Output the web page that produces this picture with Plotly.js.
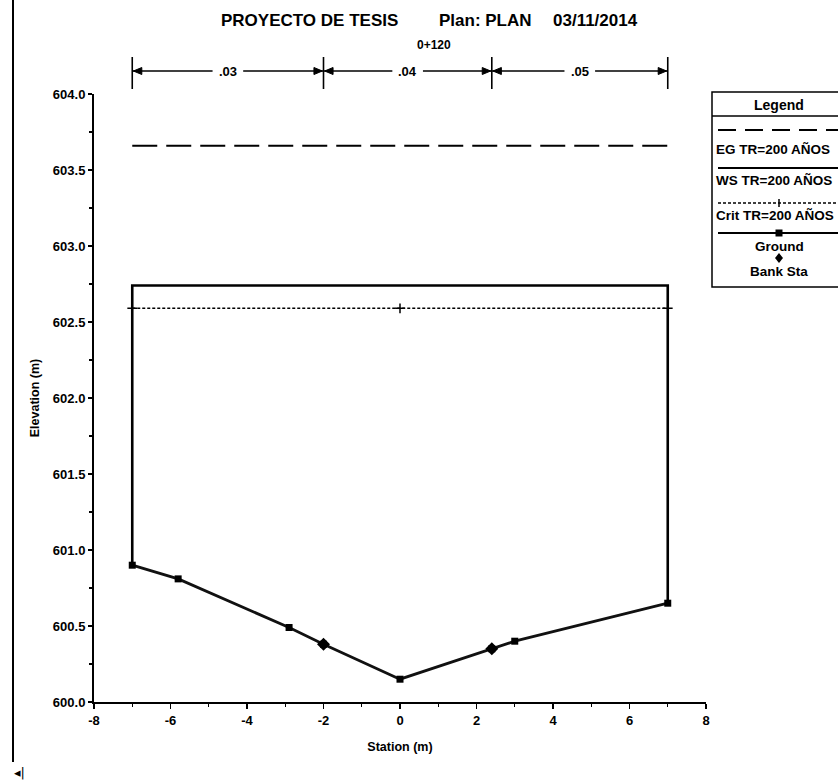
<!DOCTYPE html>
<html><head><meta charset="utf-8">
<script src="https://cdn.plot.ly/plotly-3.0.1.min.js"></script>
<style>html,body{margin:0;padding:0;background:#fff}#chart{width:838px;height:782px}</style>
</head><body><div id="chart"></div>
<script>
// ---- data ----
const groundX = [-7, -5.8, -2.9, -2, 0, 2.4, 3, 7];
const groundY = [600.90, 600.81, 600.49, 600.38, 600.15, 600.35, 600.40, 600.65];
const bankX = [-2, 2.4];
const wsElev = 602.74;
const critElev = 602.59;
const critX = [-7, 0, 7];
const egElev = 603.66;
const manningStations = [-7, -2, 2.4, 7];
const manningN = ['.03', '.04', '.05'];
const legendLabels = ['EG TR=200 AÑOS', 'WS TR=200 AÑOS', 'Crit TR=200 AÑOS', 'Ground', 'Bank Sta'];
const xTickVals = [-8, -6, -4, -2, 0, 2, 4, 6, 8];
const xTickLabels = ['-8', '-6', '-4', '-2', '0', '2', '4', '6', '8'];
const yTickVals = [600, 600.5, 601, 601.5, 602, 602.5, 603, 603.5, 604];
const yTickLabels = ['600.0', '600.5', '601.0', '601.5', '602.0', '602.5', '603.0', '603.5', '604.0'];

// ---- layout helpers (pixel -> paper) ----
const L = 94, R = 706, T = 94, B = 702;
const px = x => (x - L) / (R - L);
const py = y => (B - y) / (B - T);
const FONT = "'Liberation Sans', Arial, sans-serif";
const BLACK = '#000';

const x0 = groundX[0], xN = groundX[groundX.length - 1];
const g0 = groundY[0], gN = groundY[groundY.length - 1];
const bankY = bankX.map(b => groundY[groundX.indexOf(b)]);

const traces = [
  { x: [x0, xN], y: [egElev, egElev], mode: 'lines', line: { color: BLACK, width: 2, dash: '25px,9px' }, hoverinfo: 'skip' },
  { x: [x0, x0, xN, xN], y: [g0, wsElev, wsElev, gN], mode: 'lines', line: { color: BLACK, width: 2.6 }, hoverinfo: 'skip' },
  { x: critX, y: critX.map(() => critElev), mode: 'lines+markers', line: { color: BLACK, width: 1.6, dash: '3px,2px' },
    marker: { symbol: 'cross-thin', size: 7, line: { color: BLACK, width: 1.5 } }, hoverinfo: 'skip' },
  { x: groundX, y: groundY, mode: 'lines+markers', line: { color: '#111', width: 2.8 },
    marker: { symbol: 'square', size: 7, color: BLACK }, hoverinfo: 'skip' },
  { x: bankX, y: bankY, mode: 'markers', marker: { symbol: 'diamond', size: 10, color: BLACK }, hoverinfo: 'skip' }
];

// Manning's n bar above the plot
const manY = 71;
const shapes = [];
const annotations = [];
const arrowLen = 0.22, arrowHalf = 3.5 / (B - T);
function arrow(tip, dir) { // dir -1 = pointing left, +1 = pointing right
  const yc = py(manY);
  const base = tip - dir * arrowLen;
  return { type: 'path', xref: 'x', yref: 'paper',
    path: `M ${tip} ${yc} L ${base} ${yc + arrowHalf} L ${base} ${yc - arrowHalf} Z`,
    fillcolor: BLACK, line: { color: BLACK, width: 1 } };
}
manningN.forEach((n, i) => {
  const s0 = manningStations[i], s1 = manningStations[i + 1];
  const c = (s0 + s1) / 2;
  shapes.push({ type: 'line', xref: 'x', yref: 'paper', x0: s0, x1: c - 0.4, y0: py(manY), y1: py(manY), line: { color: BLACK, width: 1.5 } });
  shapes.push({ type: 'line', xref: 'x', yref: 'paper', x0: c + 0.4, x1: s1, y0: py(manY), y1: py(manY), line: { color: BLACK, width: 1.5 } });
  shapes.push(arrow(s0 + 0.03, -1));
  shapes.push(arrow(s1 - 0.03, 1));
  annotations.push({ xref: 'x', yref: 'paper', x: c, y: py(manY), text: n, showarrow: false,
    font: { family: FONT, size: 13, weight: 'bold', color: BLACK }, xanchor: 'center', yanchor: 'middle' });
});
manningStations.forEach(s => {
  shapes.push({ type: 'line', xref: 'x', yref: 'paper', x0: s, x1: s, y0: py(57), y1: py(89), line: { color: BLACK, width: 1.6 } });
});

// Titles
const titleFont = { family: FONT, size: 17, weight: 'bold', color: BLACK };
annotations.push({ xref: 'paper', yref: 'paper', x: px(219), y: py(20), text: 'PROYECTO DE TESIS', showarrow: false, font: titleFont, xanchor: 'left', yanchor: 'middle' });
annotations.push({ xref: 'paper', yref: 'paper', x: px(486), y: py(20), text: 'Plan: PLAN', showarrow: false, font: titleFont, xanchor: 'center', yanchor: 'middle' });
annotations.push({ xref: 'paper', yref: 'paper', x: px(640), y: py(20), text: '03/11/2014', showarrow: false, font: titleFont, xanchor: 'right', yanchor: 'middle' });
annotations.push({ xref: 'paper', yref: 'paper', x: px(434), y: py(45), text: '0+120', showarrow: false,
  font: { family: FONT, size: 12, weight: 'bold', color: BLACK }, xanchor: 'center', yanchor: 'middle' });

// Legend box (custom)
const lgL = 712, lgR = 860, lgT = 92, lgB = 287, lgC = 779;
shapes.push({ type: 'rect', xref: 'paper', yref: 'paper', x0: px(lgL), x1: px(lgR), y0: py(lgT), y1: py(lgB), line: { color: BLACK, width: 1.5 } });
shapes.push({ type: 'line', xref: 'paper', yref: 'paper', x0: px(lgL), x1: px(lgR), y0: py(116), y1: py(116), line: { color: BLACK, width: 1.5 } });
const lgFont = { family: FONT, size: 13.5, weight: 'bold', color: BLACK };
annotations.push({ xref: 'paper', yref: 'paper', x: px(lgC), y: py(105), text: 'Legend', showarrow: false, font: { family: FONT, size: 14, weight: 'bold', color: BLACK }, xanchor: 'center', yanchor: 'middle' });
const lineRows = [130, 168, 203, 233];
const textRows = [149, 181, 215, 246];
const lineStyles = [
  { width: 2, dash: '18px,9px' }, { width: 2, dash: 'solid' }, { width: 1.5, dash: '3px,2px' }, { width: 2, dash: 'solid' }
];
lineRows.forEach((r, i) => {
  shapes.push({ type: 'line', xref: 'paper', yref: 'paper', x0: px(lgL + 6), x1: px(lgR), y0: py(r), y1: py(r), line: Object.assign({ color: BLACK }, lineStyles[i]) });
});
textRows.forEach((r, i) => {
  annotations.push({ xref: 'paper', yref: 'paper', x: i < 3 ? px(714) : px(lgC), y: py(r), text: legendLabels[i], showarrow: false, font: lgFont,
    xanchor: i < 3 ? 'left' : 'center', yanchor: 'middle' });
});
annotations.push({ xref: 'paper', yref: 'paper', x: px(lgC), y: py(271), text: legendLabels[4], showarrow: false, font: lgFont, xanchor: 'center', yanchor: 'middle' });
// legend markers
shapes.push({ type: 'line', xref: 'paper', yref: 'paper', x0: px(lgC), x1: px(lgC), y0: py(199), y1: py(207), line: { color: BLACK, width: 1.5 } });
shapes.push({ type: 'rect', xref: 'paper', yref: 'paper', x0: px(lgC - 3.5), x1: px(lgC + 3.5), y0: py(229.5), y1: py(236.5), fillcolor: BLACK, line: { width: 0 } });
shapes.push({ type: 'path', xref: 'paper', yref: 'paper',
  path: `M ${px(lgC)} ${py(253)} L ${px(lgC + 4)} ${py(258)} L ${px(lgC)} ${py(263)} L ${px(lgC - 4)} ${py(258)} Z`, fillcolor: BLACK, line: { width: 0 } });

// Window border line and scroll artifact
shapes.push({ type: 'line', xref: 'paper', yref: 'paper', x0: px(13), x1: px(13), y0: py(0), y1: py(762), line: { color: BLACK, width: 2 } });
annotations.push({ xref: 'paper', yref: 'paper', x: px(12), y: py(772), text: '◂|', showarrow: false, font: { family: 'DejaVu Sans', size: 13, color: BLACK }, xanchor: 'left', yanchor: 'middle' });

const tickFont = { family: FONT, size: 13, weight: 'bold', color: BLACK };
const layout = {
  width: 838, height: 782,
  margin: { l: L, r: 838 - R, t: T, b: 782 - B, pad: 0 },
  paper_bgcolor: '#fff', plot_bgcolor: '#fff',
  showlegend: false,
  xaxis: {
    range: [xTickVals[0], xTickVals[xTickVals.length - 1]], tickmode: 'array', tickvals: xTickVals, ticktext: xTickLabels,
    ticks: 'outside', ticklen: 5, tickwidth: 1.5, tickcolor: BLACK,
    showline: true, linecolor: BLACK, linewidth: 2, showgrid: false, zeroline: false,
    minor: { dtick: 1, ticks: 'outside', ticklen: 3, tickwidth: 1.2, tickcolor: BLACK, showgrid: false },
    tickfont: tickFont,
    title: { text: 'Station (m)', font: { family: FONT, size: 12.5, weight: 'bold', color: BLACK }, standoff: 16 }
  },
  yaxis: {
    range: [yTickVals[0], yTickVals[yTickVals.length - 1]], tickmode: 'array', tickvals: yTickVals, ticktext: yTickLabels,
    ticks: 'outside', ticklen: 4, tickwidth: 1.5, tickcolor: BLACK,
    showline: true, linecolor: BLACK, linewidth: 2, showgrid: false, zeroline: false,
    minor: { dtick: 0.25, ticks: 'outside', ticklen: 3, tickwidth: 1.2, tickcolor: BLACK, showgrid: false },
    tickfont: tickFont,
    title: { text: 'Elevation (m)', font: { family: FONT, size: 12.5, weight: 'bold', color: BLACK }, standoff: 10 }
  },
  shapes: shapes,
  annotations: annotations
};
Plotly.newPlot('chart', traces, layout, { displayModeBar: false, staticPlot: true });
</script></body></html>
